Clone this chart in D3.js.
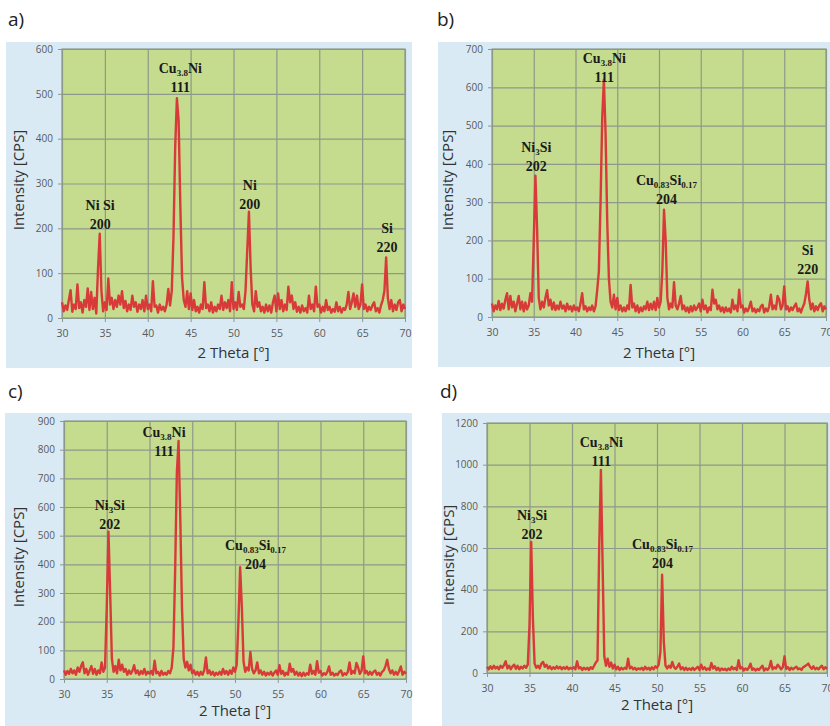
<!DOCTYPE html>
<html>
<head>
<meta charset="utf-8">
<script src="https://cdn.jsdelivr.net/npm/d3@7"></script>
<style>
  body { margin: 0; background: #fff; }
  svg { display: block; }
  .tick text { font-family: "Open Sans", sans-serif; fill: #5a5a5a; }
  .peak { font-family: "Liberation Serif", "Times New Roman", serif; font-weight: bold; fill: #1a1a1a; }
  .title { font-family: "Open Sans", "Noto Sans", sans-serif; fill: #333; }
</style>
</head>
<body>
<div id="chart"></div>
<script>
// 2 theta grid: 30..70 in 0.2 degree steps
const thetaStart = 30;
const thetaStep = 0.2;
const xTicks = [30, 35, 40, 45, 50, 55, 60, 65, 70];
const panelTags = ["a)", "b)", "c)", "d)"];

const intensityA = [
  35, 15, 28, 18, 40, 62, 14, 30, 20, 75,
  22, 35, 12, 40, 25, 66, 18, 58, 20, 45,
  10, 110, 188, 60, 15, 35, 18, 88, 30, 45,
  20, 40, 25, 50, 30, 60, 22, 38, 15, 30,
  18, 50, 25, 35, 14, 30, 20, 40, 15, 50,
  20, 30, 15, 82, 25, 28, 12, 30, 18, 25,
  15, 30, 65, 28, 60, 180, 380, 490, 440, 250,
  90, 40, 25, 60, 20, 55, 18, 40, 15, 25,
  12, 30, 20, 80, 22, 30, 15, 35, 12, 25,
  15, 30, 20, 50, 18, 35, 22, 40, 15, 80,
  20, 35, 18, 58, 25, 30, 20, 60, 150, 237,
  110, 30, 15, 60, 25, 35, 15, 25, 12, 30,
  15, 28, 12, 35, 50, 15, 55, 20, 40, 15,
  30, 18, 70, 35, 50, 20, 35, 14, 25, 12,
  28, 15, 22, 12, 50, 20, 30, 15, 70, 25,
  30, 12, 25, 15, 40, 18, 25, 12, 20, 14,
  35, 15, 25, 12, 22, 18, 30, 58, 20, 35,
  55, 25, 50, 20, 30, 75, 20, 30, 15, 25,
  18, 28, 35, 15, 22, 12, 28, 40, 60, 135,
  45, 20, 40, 15, 30, 18, 35, 40, 15, 30,
  20
];

const intensityB = [
  35, 15, 30, 20, 42, 18, 35, 22, 45, 62,
  20, 55, 25, 40, 15, 35, 55, 20, 40, 15,
  38, 20, 30, 62, 40, 200, 369, 230, 50, 20,
  40, 25, 50, 70, 30, 45, 20, 38, 18, 30,
  20, 40, 22, 30, 15, 35, 20, 28, 15, 30,
  18, 25, 15, 35, 62, 20, 28, 15, 25, 18,
  30, 15, 28, 70, 120, 300, 520, 620, 480, 250,
  100, 40, 25, 58, 20, 50, 18, 30, 15, 25,
  15, 30, 20, 84, 25, 35, 15, 30, 12, 25,
  15, 28, 20, 40, 18, 35, 20, 40, 18, 50,
  25, 40, 120, 280, 200, 50, 20, 35, 25, 91,
  30, 20, 35, 55, 20, 30, 15, 25, 12, 28,
  15, 30, 18, 25, 35, 15, 45, 20, 30, 12,
  25, 18, 71, 35, 45, 20, 30, 15, 25, 12,
  25, 15, 22, 12, 45, 20, 30, 15, 71, 25,
  30, 12, 22, 15, 25, 40, 15, 22, 12, 20,
  15, 28, 32, 12, 22, 15, 28, 58, 20, 30,
  20, 55, 45, 20, 30, 80, 20, 28, 15, 25,
  18, 28, 35, 15, 22, 12, 25, 35, 60, 93,
  45, 20, 35, 15, 28, 18, 30, 36, 15, 28,
  20
];

const intensityC = [
  30, 15, 28, 18, 35, 20, 30, 15, 40, 25,
  45, 58, 20, 35, 15, 30, 45, 18, 35, 15,
  30, 20, 58, 25, 40, 250, 514, 300, 70, 25,
  45, 20, 67, 30, 50, 25, 35, 15, 30, 18,
  28, 48, 20, 30, 15, 28, 18, 35, 15, 25,
  18, 28, 15, 64, 20, 25, 12, 28, 15, 22,
  15, 28, 20, 40, 110, 380, 720, 830, 560, 250,
  70, 40, 60, 30, 50, 20, 30, 15, 25, 12,
  25, 15, 30, 75, 20, 30, 15, 25, 12, 22,
  15, 25, 15, 35, 18, 28, 15, 30, 18, 40,
  25, 50, 200, 390, 250, 60, 25, 40, 30, 94,
  35, 20, 30, 58, 20, 30, 15, 25, 12, 22,
  15, 25, 12, 22, 30, 15, 48, 18, 28, 12,
  22, 15, 53, 25, 35, 15, 25, 12, 22, 10,
  22, 12, 20, 15, 50, 18, 28, 15, 62, 22,
  28, 12, 20, 15, 25, 44, 15, 22, 12, 18,
  14, 25, 30, 12, 20, 15, 25, 58, 18, 28,
  20, 56, 40, 18, 28, 79, 20, 28, 15, 25,
  15, 25, 30, 15, 22, 12, 25, 30, 45, 67,
  35, 20, 30, 15, 25, 15, 28, 44, 15, 25,
  18
];

const intensityD = [
  30, 18, 32, 20, 35, 22, 30, 18, 35, 25,
  38, 56, 22, 35, 18, 32, 40, 20, 35, 18,
  30, 22, 35, 25, 40, 230, 629, 260, 45, 25,
  35, 22, 45, 53, 30, 40, 22, 32, 18, 28,
  20, 32, 22, 30, 18, 28, 20, 30, 18, 25,
  20, 28, 18, 56, 22, 28, 15, 25, 18, 25,
  15, 28, 20, 35, 50, 60, 600, 975, 520, 80,
  35, 69, 30, 50, 22, 40, 18, 30, 15, 25,
  18, 25, 20, 69, 22, 30, 18, 25, 15, 22,
  18, 25, 15, 30, 18, 25, 15, 28, 18, 32,
  25, 40, 100, 472, 150, 35, 22, 35, 25, 53,
  28, 20, 30, 45, 18, 28, 15, 25, 15, 22,
  15, 25, 15, 22, 30, 15, 40, 18, 28, 15,
  22, 15, 48, 22, 32, 15, 25, 12, 22, 15,
  20, 12, 22, 15, 30, 18, 25, 15, 61, 22,
  28, 12, 22, 15, 25, 45, 15, 22, 12, 20,
  15, 25, 35, 12, 22, 15, 25, 58, 18, 28,
  22, 40, 30, 18, 28, 80, 20, 28, 15, 25,
  18, 25, 30, 18, 22, 15, 28, 32, 38, 45,
  30, 20, 32, 18, 25, 18, 28, 35, 18, 28,
  20
];

// peak labels: anchor (theta, intensity) of the first line's baseline
const cu38ni = [["Cu"], ["3.8", "sub"], ["Ni"]];
const ni3si = [["Ni"], ["3", "sub"], ["Si"]];
const cuSi = [["Cu"], ["0.83", "sub"], ["Si"], ["0.17", "sub"]];

const labelsA = [
  { theta: 34.45, value: 241, formula: [["Ni Si"]], hkl: "200" },
  { theta: 43.8, value: 547, formula: cu38ni, hkl: "111" },
  { theta: 51.9, value: 286, formula: [["Ni"]], hkl: "200" },
  { theta: 67.9, value: 189, formula: [["Si"]], hkl: "220" }
];
const labelsB = [
  { theta: 35.3, value: 432, formula: ni3si, hkl: "202" },
  { theta: 43.45, value: 664, formula: cu38ni, hkl: "111" },
  { theta: 50.9, value: 345, formula: cuSi, hkl: "204" },
  { theta: 67.8, value: 163, formula: [["Si"]], hkl: "220" }
];
const labelsC = [
  { theta: 35.35, value: 590, formula: ni3si, hkl: "202" },
  { theta: 41.7, value: 845, formula: cu38ni, hkl: "111" },
  { theta: 52.4, value: 451, formula: cuSi, hkl: "204" }
];
const labelsD = [
  { theta: 35.3, value: 733, formula: ni3si, hkl: "202" },
  { theta: 43.45, value: 1085, formula: cu38ni, hkl: "111" },
  { theta: 50.65, value: 597, formula: cuSi, hkl: "204" }
];

const yTicksA = [0, 100, 200, 300, 400, 500, 600];
const yTicksB = [0, 100, 200, 300, 400, 500, 600, 700];
const yTicksC = [0, 100, 200, 300, 400, 500, 600, 700, 800, 900];
const yTicksD = [0, 200, 400, 600, 800, 1000, 1200];

const panels = [
  { tag: panelTags[0], data: intensityA, labels: labelsA, yTicks: yTicksA,
    plot: [62, 49, 405, 318], box: [6, 42, 412, 368], tagPos: [8, 26], yTitle: [19, 180], xTitleY: 358 },
  { tag: panelTags[1], data: intensityB, labels: labelsB, yTicks: yTicksB,
    plot: [492, 49, 826, 317], box: [438, 42, 836, 367], tagPos: [437, 26], yTitle: [448, 180], xTitleY: 358 },
  { tag: panelTags[2], data: intensityC, labels: labelsC, yTicks: yTicksC,
    plot: [64, 421, 406, 679], box: [5, 413, 412, 730], tagPos: [8, 398], yTitle: [19, 557], xTitleY: 716 },
  { tag: panelTags[3], data: intensityD, labels: labelsD, yTicks: yTicksD,
    plot: [487, 423, 827, 673], box: [442, 413, 836, 730], tagPos: [440, 398], yTitle: [449, 555], xTitleY: 710 }
];

const W = 830, H = 726;
const svg = d3.select("#chart").append("svg").attr("width", W).attr("height", H);

panels.forEach((p) => {
  const [px0, py0, px1, py1] = p.plot;
  const xScale = d3.scaleLinear().domain([30, 70]).range([px0, px1]);
  const yScale = d3.scaleLinear().domain([0, d3.max(p.yTicks)]).range([py1, py0]);

  svg.append("rect")
    .attr("x", p.box[0]).attr("y", p.box[1])
    .attr("width", p.box[2] - p.box[0]).attr("height", p.box[3] - p.box[1])
    .attr("fill", "#d9eaf4");

  svg.append("text")
    .attr("class", "title")
    .attr("x", p.tagPos[0]).attr("y", p.tagPos[1])
    .attr("font-size", 19)
    .style("fill", "#222")
    .text(p.tag);

  svg.append("rect")
    .attr("x", px0).attr("y", py0)
    .attr("width", px1 - px0).attr("height", py1 - py0)
    .attr("fill", "#c5db8d");

  // grid
  svg.append("g")
    .attr("transform", `translate(0, ${py1})`)
    .call(d3.axisBottom(xScale).tickValues(xTicks).tickSize(-(py1 - py0)).tickFormat(""))
    .call((g) => g.select(".domain").remove())
    .selectAll("line").attr("stroke", "#8d998a").attr("stroke-width", 1.2);
  svg.append("g")
    .attr("transform", `translate(${px0}, 0)`)
    .call(d3.axisLeft(yScale).tickValues(p.yTicks).tickSize(-(px1 - px0)).tickFormat(""))
    .call((g) => g.select(".domain").remove())
    .selectAll("line").attr("stroke", "#8d998a").attr("stroke-width", 1.2);

  svg.append("rect")
    .attr("x", px0).attr("y", py0)
    .attr("width", px1 - px0).attr("height", py1 - py0)
    .attr("fill", "none").attr("stroke", "#8d998a").attr("stroke-width", 1.2);

  // axes
  const xAxis = svg.append("g")
    .attr("transform", `translate(0, ${py1})`)
    .call(d3.axisBottom(xScale).tickValues(xTicks).tickSize(4).tickPadding(8));
  xAxis.select(".domain").remove();
  xAxis.selectAll("line").attr("stroke", "#8d998a");
  xAxis.selectAll("text").attr("font-size", 10.5);

  const yAxis = svg.append("g")
    .attr("transform", `translate(${px0}, 0)`)
    .call(d3.axisLeft(yScale).tickValues(p.yTicks).tickSize(4).tickPadding(5).tickFormat(d3.format("d")));
  yAxis.select(".domain").remove();
  yAxis.selectAll("line").attr("stroke", "#8d998a");
  yAxis.selectAll("text").attr("font-size", 10);

  // pattern
  const line = d3.line()
    .x((d, i) => xScale(thetaStart + i * thetaStep))
    .y((d) => yScale(d));
  svg.append("path")
    .datum(p.data)
    .attr("d", line)
    .attr("fill", "none")
    .attr("stroke", "#d83a3a")
    .attr("stroke-width", 2.4)
    .attr("stroke-linejoin", "round");

  // peak labels
  p.labels.forEach((lb) => {
    const x = xScale(lb.theta), y = yScale(lb.value);
    const t = svg.append("text").attr("class", "peak")
      .attr("x", x).attr("y", y).attr("text-anchor", "middle").attr("font-size", 14);
    let shifted = false;
    lb.formula.forEach(([s, kind]) => {
      const ts = t.append("tspan").text(s);
      if (kind === "sub") {
        ts.attr("font-size", 9).attr("dy", shifted ? 0 : 3);
        shifted = true;
      } else if (shifted) {
        ts.attr("dy", -3);
        shifted = false;
      }
    });
    svg.append("text").attr("class", "peak")
      .attr("x", x).attr("y", y + 19).attr("text-anchor", "middle").attr("font-size", 14)
      .text(lb.hkl);
  });

  // axis titles
  svg.append("text")
    .attr("class", "title")
    .attr("transform", `translate(${p.yTitle[0]}, ${p.yTitle[1]}) rotate(-90)`)
    .attr("text-anchor", "middle").attr("dy", "0.35em")
    .attr("font-size", 15)
    .text("Intensity [CPS]");
  svg.append("text")
    .attr("class", "title")
    .attr("x", (px0 + px1) / 2).attr("y", p.xTitleY)
    .attr("text-anchor", "middle")
    .attr("font-size", 15)
    .text("2 Theta [°]");
});
</script>
</body>
</html>
